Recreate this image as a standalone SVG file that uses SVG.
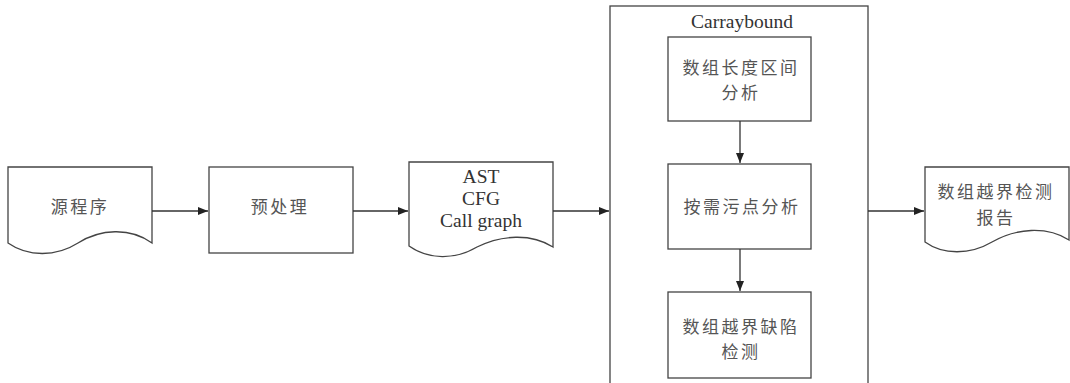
<svg xmlns="http://www.w3.org/2000/svg" width="1070" height="383" viewBox="0 0 1070 383">
<style>
.shape{fill:#fff;stroke:#444;stroke-width:1.3}
.cn{font-family:"Noto Sans CJK SC","Noto Sans",sans-serif;font-size:17px;fill:#555;text-anchor:middle;letter-spacing:2.5px}
.en{font-family:"Liberation Serif","DejaVu Serif",serif;font-size:19.5px;fill:#333;text-anchor:middle}
.conn{stroke:#333;stroke-width:1.3;fill:none;marker-end:url(#arr)}
</style>
<defs>
<marker id="arr" viewBox="0 0 10 8" refX="10" refY="4" markerWidth="10" markerHeight="8" markerUnits="userSpaceOnUse" orient="auto">
<path d="M0,0 L10,4 L0,8 z" fill="#222"/>
</marker>
</defs>
<rect width="1070" height="383" fill="#fff"/>
<g id="src">
<path class="shape" d="M8,167 H152 V243 C130,227 100,229 78,243 C56,257 28,257 8,243 Z"/>
<text class="cn" x="80" y="213">源程序</text>
</g>
<g id="pre">
<rect class="shape" x="209" y="167" width="144" height="86"/>
<text class="cn" x="280" y="213">预处理</text>
</g>
<g id="ast">
<path class="shape" d="M409,162 H553 V247 C531,233 501,235 477,247 C455,260 429,260 409,246 Z"/>
<text class="en" x="481" y="183">AST</text>
<text class="en" x="481" y="205">CFG</text>
<text class="en" x="481" y="227">Call graph</text>
</g>
<g id="carraybound">
<rect class="shape" x="610" y="6" width="258" height="390"/>
<text class="en" x="742" y="28">Carraybound</text>
</g>
<g id="len">
<rect class="shape" x="668" y="37" width="143" height="84"/>
<text class="cn" x="741" y="74">数组长度区间</text>
<text class="cn" x="741" y="99">分析</text>
</g>
<g id="taint">
<rect class="shape" x="668" y="164" width="143" height="85"/>
<text class="cn" x="742" y="213">按需污点分析</text>
</g>
<g id="detect">
<rect class="shape" x="668" y="292" width="143" height="86"/>
<text class="cn" x="741" y="333">数组越界缺陷</text>
<text class="cn" x="741" y="358">检测</text>
</g>
<g id="report">
<path class="shape" d="M925,167 H1069 V240 C1047,226 1016,228 992,242 C970,255 943,255 925,242 Z"/>
<text class="cn" x="996" y="198">数组越界检测</text>
<text class="cn" x="996" y="224">报告</text>
</g>
<g id="connectors">
<line class="conn" x1="152" y1="211" x2="208" y2="211"/>
<line class="conn" x1="353" y1="211" x2="408" y2="211"/>
<line class="conn" x1="553" y1="211" x2="609" y2="211"/>
<line class="conn" x1="740" y1="121" x2="740" y2="163"/>
<line class="conn" x1="740" y1="249" x2="740" y2="291"/>
<line class="conn" x1="868" y1="211" x2="924" y2="211"/>
</g>
</svg>
